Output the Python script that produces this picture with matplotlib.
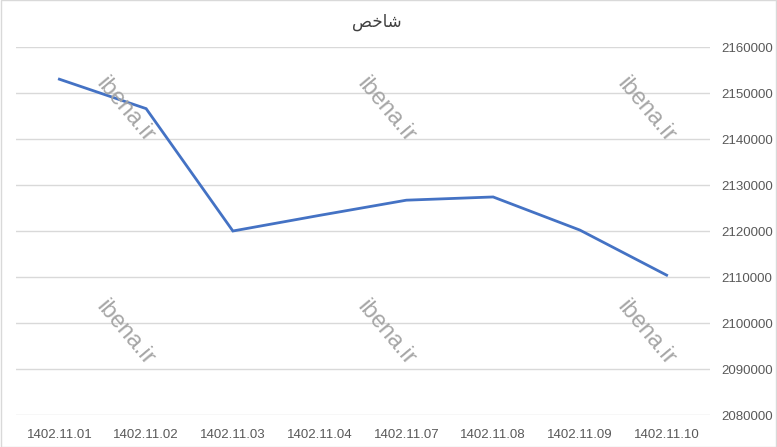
import matplotlib
matplotlib.use("Agg")
import matplotlib.pyplot as plt

# data
dates = ["1402.11.01", "1402.11.02", "1402.11.03", "1402.11.04",
         "1402.11.07", "1402.11.08", "1402.11.09", "1402.11.10"]
index_values = [2153000, 2146600, 2120000, 2123400,
                2126700, 2127400, 2120200, 2110400]
y_ticks = list(range(2080000, 2160001, 10000))

# "شاخص" shaped by hand into presentation forms, in visual order
title = "\uFEBA\uFEA7\uFE8E\uFEB7"

plt.rcParams['font.family'] = ['Liberation Sans Narrow', 'Liberation Sans', 'DejaVu Sans']
text_color = "#595959"

fig = plt.figure(figsize=(7.77, 4.47), dpi=100)
ax = fig.add_axes([16 / 777, 32 / 447, 694 / 777, 368 / 447])

x = list(range(len(dates)))
ax.plot(x, index_values, color="#4472C4", linewidth=2.0, solid_joinstyle="miter", zorder=3)

ax.set_xlim(-0.5, len(dates) - 0.5)
ax.set_ylim(y_ticks[0], y_ticks[-1])
ax.set_xticks(x)
ax.set_xticklabels(dates)
ax.set_yticks(y_ticks)
ax.set_yticklabels([str(v) for v in y_ticks])
ax.yaxis.tick_right()
ax.tick_params(axis="both", length=0, labelsize=9.5, colors=text_color)
ax.tick_params(axis="x", pad=10)
ax.tick_params(axis="y", pad=8)
ax.grid(axis="y", color="#D9D9D9", linewidth=1.0)
ax.set_axisbelow(True)
for s in ax.spines.values():
    s.set_visible(False)

fig.text(377 / 777, 1 - 22 / 447, title, family="DejaVu Sans", fontsize=12,
         color="#404040", ha="center", va="center")

# watermarks
for wx in (125, 386, 646):
    for wy in (110, 333):
        fig.text(wx / 777, 1 - wy / 447, "ibena.ir", fontsize=17, color="#A6A6A6",
                 rotation=-50, ha="center", va="center",
                 family=['Liberation Sans', 'DejaVu Sans'], zorder=5)

# chart border
fig.patches.append(plt.Rectangle((0.001, 0.001), 0.998, 0.998, transform=fig.transFigure,
                                 fill=False, edgecolor="#D9D9D9", linewidth=1.0))

fig.savefig("out.png", dpi=100)
